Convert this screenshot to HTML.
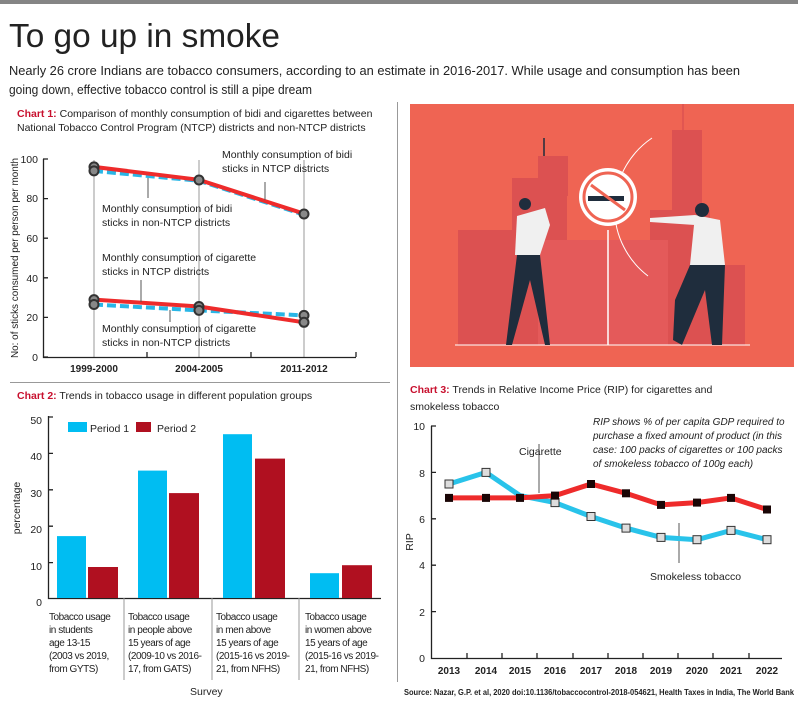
<!DOCTYPE html>
<html><head><meta charset="utf-8"><style>
html,body{margin:0;padding:0;background:#fff;width:798px;height:702px;overflow:hidden}
svg{display:block;font-family:"Liberation Sans",sans-serif}
</style></head><body>
<svg width="798" height="702" viewBox="0 0 798 702" xmlns="http://www.w3.org/2000/svg">
<rect x="0" y="0" width="798" height="4" fill="#858585"/>
<text x="9" y="47" font-size="33" fill="#222" textLength="271" lengthAdjust="spacingAndGlyphs" font-weight="300">To go up in smoke</text>
<text x="9" y="75" font-size="13" fill="#222" textLength="731" lengthAdjust="spacingAndGlyphs">Nearly 26 crore Indians are tobacco consumers, according to an estimate in 2016-2017. While usage and consumption has been</text>
<text x="9" y="94" font-size="13" fill="#222" textLength="303" lengthAdjust="spacingAndGlyphs">going down, effective tobacco control is still a pipe dream</text>
<line x1="397.5" y1="102" x2="397.5" y2="682" stroke="#999" stroke-width="1"/>
<line x1="10" y1="382.5" x2="390" y2="382.5" stroke="#999" stroke-width="1"/>

<!-- illustration -->
<rect x="410" y="104" width="384" height="263" fill="#ef6453"/>
<g fill="#dc5151">
<rect x="458" y="230" width="80" height="115"/><rect x="512" y="178" width="55" height="167"/><rect x="538" y="156" width="30" height="40"/>
<rect x="672" y="130" width="30" height="215"/><rect x="650" y="210" width="60" height="135"/><rect x="705" y="265" width="40" height="80"/>
<rect x="458" y="290" width="40" height="55"/>
</g>
<g fill="#e45a5a"><rect x="538" y="240" width="130" height="105"/><rect x="610" y="240" width="50" height="105"/></g>
<line x1="544" y1="138" x2="544" y2="156" stroke="#1f2d3d" stroke-width="1.5"/>
<line x1="683" y1="104" x2="683" y2="130" stroke="#dc5151" stroke-width="1.5"/>
<line x1="455" y1="345" x2="750" y2="345" stroke="#fff" stroke-width="1"/>
<path d="M652 138 A85 85 0 0 0 648 276" fill="none" stroke="#fff" stroke-width="1"/>
<line x1="608" y1="230" x2="608" y2="345" stroke="#fff" stroke-width="1.5"/>
<circle cx="608" cy="197" r="29" fill="#fff"/><circle cx="608" cy="197" r="24" fill="#fff" stroke="#ef6453" stroke-width="3"/>
<rect x="588" y="196" width="36" height="5" fill="#1f2d3d"/>
<line x1="591" y1="185" x2="625" y2="210" stroke="#ef6453" stroke-width="3"/>
<path d="M517 216 L545 208 L550 225 L540 255 L515 255 Z" fill="#f0f0f0"/>
<path d="M517 255 L540 255 L550 345 L545 345 L530 280 L512 345 L506 345 Z" fill="#1f2d3d"/>
<circle cx="525" cy="204" r="6" fill="#1f2d3d"/>
<path d="M695 215 L720 220 L725 265 L690 265 Z M650 218 L695 215 L695 225 L650 222Z" fill="#f0f0f0"/>
<path d="M690 265 L725 265 L722 345 L712 345 L705 290 L682 345 L673 340 L675 300 Z" fill="#1f2d3d"/>
<circle cx="702" cy="210" r="7" fill="#1f2d3d"/>

<!-- Chart 1 -->
<text x="17" y="117" font-size="10.5" fill="#222"><tspan fill="#c8102e" font-weight="bold">Chart 1:</tspan> Comparison of monthly consumption of bidi and cigarettes between</text>
<text x="17" y="131" font-size="10.5" fill="#222">National Tobacco Control  Program (NTCP) districts and non-NTCP districts</text>
<g stroke="#999" stroke-width="1"><line x1="94" y1="160" x2="94" y2="357"/><line x1="199" y1="160" x2="199" y2="357"/><line x1="304" y1="160" x2="304" y2="357"/></g>
<g stroke="#222" stroke-width="1.3" fill="none">
<path d="M43.5 159 V357.5 H356"/>
<path d="M43 159h5M43 198.6h5M43 238.2h5M43 277.8h5M43 317.4h5M43 357h5"/>
<path d="M147 357v-5M251 357v-5M356 357v-5"/>
</g>
<g font-size="10.5" fill="#222" text-anchor="end"><text x="38" y="163">100</text><text x="38" y="202">80</text><text x="38" y="242">60</text><text x="38" y="282">40</text><text x="38" y="321">20</text><text x="38" y="361">0</text></g>
<g font-size="10" fill="#222" text-anchor="middle" font-weight="bold"><text x="94" y="372">1999-2000</text><text x="199" y="372">2004-2005</text><text x="304" y="372">2011-2012</text></g>
<text transform="translate(18,258) rotate(-90)" font-size="10" fill="#222" text-anchor="middle" textLength="200" lengthAdjust="spacingAndGlyphs">No: of sticks consumed per person per month</text>
<g fill="none" stroke-width="4">
<polyline points="94,170.9 199,180.8 304,214.7" stroke="#29b6e6" stroke-dasharray="9,4"/>
<polyline points="94,166.9 199,179.8 304,213.7" stroke="#ee2b2b"/>
<polyline points="94,304.5 199,310.4 304,315.4" stroke="#29b6e6" stroke-dasharray="9,4"/>
<polyline points="94,299.6 199,306.5 304,322.3" stroke="#ee2b2b"/>
</g>
<g fill="#888" stroke="#333" stroke-width="2">
<circle cx="94" cy="166.9" r="4.5"/><circle cx="94" cy="170.9" r="4.5"/><circle cx="199" cy="180" r="4.5"/><circle cx="304" cy="214" r="4.5"/>
<circle cx="94" cy="299.6" r="4.5"/><circle cx="94" cy="304.5" r="4.5"/><circle cx="199" cy="306.5" r="4.5"/><circle cx="199" cy="310.4" r="4.5"/><circle cx="304" cy="315.4" r="4.5"/><circle cx="304" cy="322.3" r="4.5"/>
</g>
<g stroke="#555" stroke-width="1"><line x1="148" y1="178" x2="148" y2="198"/><line x1="265" y1="182" x2="265" y2="200"/><line x1="141" y1="280" x2="141" y2="302"/><line x1="170" y1="310" x2="170" y2="322"/></g>
<g font-size="10.5" fill="#222">
<text x="222" y="158">Monthly consumption of bidi</text><text x="222" y="172">sticks in NTCP districts</text>
<text x="102" y="212">Monthly consumption of bidi</text><text x="102" y="226">sticks in non-NTCP districts</text>
<text x="102" y="261">Monthly consumption of cigarette</text><text x="102" y="275">sticks in NTCP districts</text>
<text x="102" y="332">Monthly consumption of cigarette</text><text x="102" y="346">sticks in non-NTCP districts</text>
</g>

<!-- Chart 2 -->
<text x="17" y="399" font-size="10.5" fill="#222"><tspan fill="#c8102e" font-weight="bold">Chart 2:</tspan> Trends in tobacco usage in different population groups</text>
<g stroke="#222" stroke-width="1.3" fill="none">
<path d="M48.5 416 V598.5 H381"/>
<path d="M48 417h5M48 453.4h5M48 489.8h5M48 526.2h5M48 562.6h5"/>
</g>
<g stroke="#999" stroke-width="1"><line x1="124" y1="598" x2="124" y2="680"/><line x1="212" y1="598" x2="212" y2="680"/><line x1="299" y1="598" x2="299" y2="680"/></g>
<g font-size="10.5" fill="#222" text-anchor="end"><text x="42" y="424">50</text><text x="42" y="460">40</text><text x="42" y="497">30</text><text x="42" y="533">20</text><text x="42" y="570">10</text><text x="42" y="606">0</text></g>
<text transform="translate(20,508) rotate(-90)" font-size="10.5" fill="#222" text-anchor="middle">percentage</text>
<g fill="#00bdf2"><rect x="57" y="536.1" width="29" height="61.9"/><rect x="138" y="470.6" width="29" height="127.4"/><rect x="223" y="434.2" width="29" height="163.8"/><rect x="310" y="573.2" width="29" height="24.8"/></g>
<g fill="#b01020"><rect x="88" y="567" width="30" height="31"/><rect x="169" y="493.1" width="30" height="104.9"/><rect x="255" y="458.6" width="30" height="139.4"/><rect x="342" y="565.2" width="30" height="32.8"/></g>
<rect x="68" y="422" width="19" height="10" fill="#00bdf2"/><text x="90" y="432" font-size="10.5" fill="#222">Period 1</text>
<rect x="136" y="422" width="15" height="10" fill="#b01020"/><text x="157" y="432" font-size="10.5" fill="#222">Period 2</text>
<g font-size="10" fill="#222" letter-spacing="-0.45">
<text x="49" y="620">Tobacco usage</text><text x="49" y="633">in students</text><text x="49" y="646">age 13-15</text><text x="49" y="659">(2003 vs 2019,</text><text x="49" y="672">from GYTS)</text>
<text x="128" y="620">Tobacco usage</text><text x="128" y="633">in people above</text><text x="128" y="646">15 years of age</text><text x="128" y="659">(2009-10 vs 2016-</text><text x="128" y="672">17, from GATS)</text>
<text x="216" y="620">Tobacco usage</text><text x="216" y="633">in men above</text><text x="216" y="646">15 years of age</text><text x="216" y="659">(2015-16 vs 2019-</text><text x="216" y="672">21, from NFHS)</text>
<text x="305" y="620">Tobacco usage</text><text x="305" y="633">in women above</text><text x="305" y="646">15 years of age</text><text x="305" y="659">(2015-16 vs 2019-</text><text x="305" y="672">21, from NFHS)</text>
</g>
<text x="190" y="695" font-size="10.5" fill="#222">Survey</text>

<!-- Chart 3 -->
<text x="410" y="393" font-size="10.5" fill="#222"><tspan fill="#c8102e" font-weight="bold">Chart 3:</tspan> Trends in Relative Income Price (RIP) for cigarettes and</text>
<text x="410" y="410" font-size="10.5" fill="#222">smokeless tobacco</text>
<g stroke="#222" stroke-width="1.3" fill="none">
<path d="M431.5 426 V658.5 H782"/>
<path d="M431 426h5M431 472.4h5M431 518.8h5M431 565.2h5M431 611.6h5"/>
<path d="M467 658v-5M502 658v-5M537 658v-5M573 658v-5M608 658v-5M643 658v-5M678 658v-5M713 658v-5M749 658v-5"/>
</g>
<g font-size="10.5" fill="#222" text-anchor="end"><text x="425" y="430">10</text><text x="425" y="477">8</text><text x="425" y="523">6</text><text x="425" y="569">4</text><text x="425" y="616">2</text><text x="425" y="662">0</text></g>
<text transform="translate(413,542) rotate(-90)" font-size="10.5" fill="#222" text-anchor="middle">RIP</text>
<g font-size="10" fill="#222" text-anchor="middle" font-weight="bold"><text x="449" y="674">2013</text><text x="486" y="674">2014</text><text x="520" y="674">2015</text><text x="555" y="674">2016</text><text x="591" y="674">2017</text><text x="626" y="674">2018</text><text x="661" y="674">2019</text><text x="697" y="674">2020</text><text x="731" y="674">2021</text><text x="767" y="674">2022</text></g>
<line x1="539" y1="444" x2="539" y2="493" stroke="#555"/><line x1="679" y1="523" x2="679" y2="563" stroke="#555"/>
<polyline fill="none" stroke="#29c3ea" stroke-width="5" points="449,484 486,472.4 520,495.6 555,502.6 591,516.5 626,528.1 661,537.4 697,539.7 731,530.4 767,539.7"/>
<polyline fill="none" stroke="#ee2b2b" stroke-width="5" points="449,497.9 486,497.9 520,497.9 555,495.6 591,484 626,493.3 661,504.9 697,502.6 731,497.9 767,509.5"/>
<g fill="#ddd" stroke="#333" stroke-width="1"><rect x="445" y="480" width="8" height="8"/><rect x="482" y="468.4" width="8" height="8"/><rect x="551" y="498.6" width="8" height="8"/><rect x="587" y="512.5" width="8" height="8"/><rect x="622" y="524.1" width="8" height="8"/><rect x="657" y="533.4" width="8" height="8"/><rect x="693" y="535.7" width="8" height="8"/><rect x="727" y="526.4" width="8" height="8"/><rect x="763" y="535.7" width="8" height="8"/></g>
<g fill="#1a0505"><rect x="445" y="493.9" width="8" height="8"/><rect x="482" y="493.9" width="8" height="8"/><rect x="516" y="493.9" width="8" height="8"/><rect x="551" y="491.6" width="8" height="8"/><rect x="587" y="480" width="8" height="8"/><rect x="622" y="489.3" width="8" height="8"/><rect x="657" y="500.9" width="8" height="8"/><rect x="693" y="498.6" width="8" height="8"/><rect x="727" y="493.9" width="8" height="8"/><rect x="763" y="505.5" width="8" height="8"/></g>
<g font-size="10.5" fill="#222"><text x="519" y="455">Cigarette</text><text x="650" y="580">Smokeless tobacco</text></g>
<g font-size="10" fill="#222" font-style="italic"><text x="593" y="425">RIP shows % of per capita GDP required to</text><text x="593" y="439">purchase a fixed amount of product (in this</text><text x="593" y="453">case: 100 packs of cigarettes or 100 packs</text><text x="593" y="467">of smokeless tobacco of 100g each)</text></g>
<text x="404" y="695" font-size="8" fill="#222" font-weight="bold" textLength="390" lengthAdjust="spacingAndGlyphs">Source: Nazar, G.P. et al, 2020 doi:10.1136/tobaccocontrol-2018-054621, Health Taxes in India, The World Bank</text>
</svg>
</body></html>
